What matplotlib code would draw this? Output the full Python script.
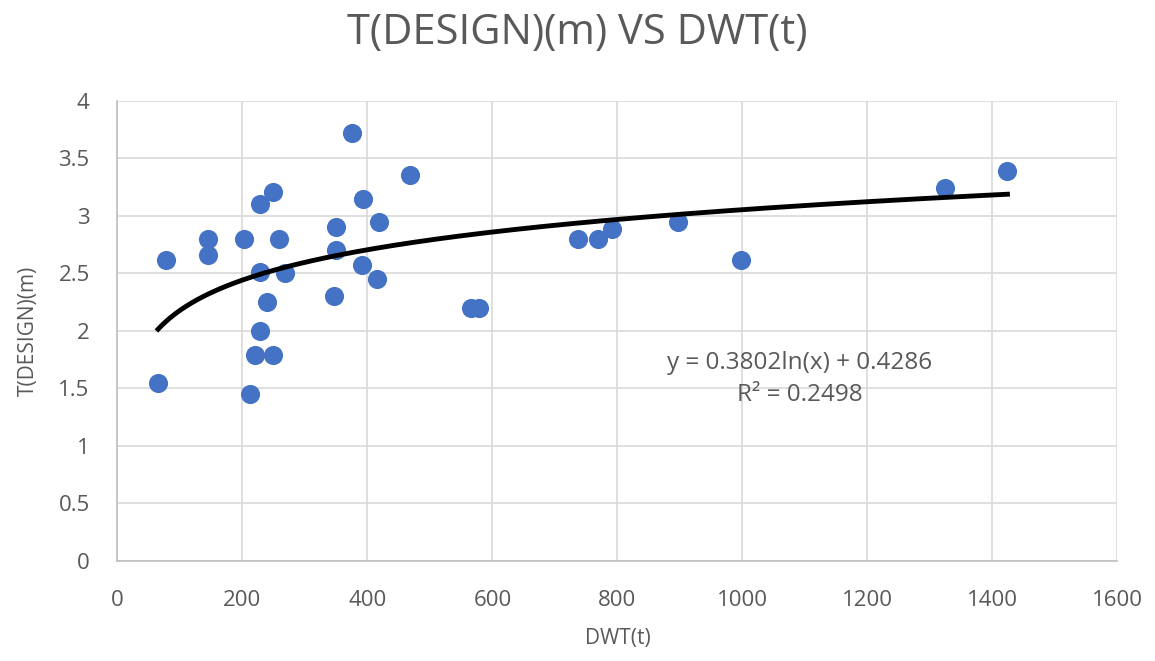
import numpy as np
import matplotlib.pyplot as plt

plt.rcParams['font.family'] = ['Open Sans', 'DejaVu Sans']

# DWT (t) and design draught (m) for each vessel
dwt = [65, 78, 145, 145, 202, 212, 220, 228, 228, 228, 240, 249, 249, 258, 268,
       347, 350, 350, 375, 391, 393, 415, 419, 468, 565, 579,
       737, 769, 792, 897, 997, 1324, 1424]
t_design = [1.55, 2.62, 2.80, 2.66, 2.80, 1.45, 1.79, 3.10, 2.51, 2.00, 2.25, 3.21, 1.79, 2.80, 2.50,
            2.30, 2.90, 2.70, 3.72, 2.57, 3.15, 2.45, 2.945, 3.36, 2.20, 2.20,
            2.80, 2.80, 2.89, 2.945, 2.62, 3.24, 3.39]

# logarithmic trendline coefficients
coef_a = 0.3802
coef_b = 0.4286
r_squared = 0.2498

x_ticks = [0, 200, 400, 600, 800, 1000, 1200, 1400, 1600]
y_ticks = [0, 0.5, 1, 1.5, 2, 2.5, 3, 3.5, 4]

text_grey = '#595959'
grid_grey = '#d9d9d9'

fig = plt.figure(figsize=(11.55, 6.61), dpi=100)
ax = fig.add_axes([0.1017, 0.1513, 0.8658, 0.6959])

ax.scatter(dwt, t_design, s=190, color='#4472C4', zorder=3, linewidths=0)

xs = np.linspace(min(dwt), max(dwt), 300)
ax.plot(xs, coef_a * np.log(xs) + coef_b, color='black', lw=3.5, zorder=4)

ax.set_xlim(0, 1600)
ax.set_ylim(0, 4)
ax.set_xticks(x_ticks)
ax.set_yticks(y_ticks)
ax.set_xticklabels([f'{v:g}' for v in x_ticks])
ax.set_yticklabels([f'{v:g}' for v in y_ticks])
ax.tick_params(length=0, labelsize=16, colors=text_grey)
ax.tick_params(axis='y', pad=20)
ax.tick_params(axis='x', pad=21)

ax.grid(True, color=grid_grey, lw=1.2)
ax.set_axisbelow(True)
for side in ['top', 'right']:
    ax.spines[side].set_visible(False)
for side in ['left', 'bottom']:
    ax.spines[side].set_color('#bfbfbf')
    ax.spines[side].set_linewidth(1.2)

ax.set_xlabel('DWT(t)', fontsize=15, color=text_grey, labelpad=12)
ax.set_ylabel('T(DESIGN)(m)', fontsize=15, color=text_grey, labelpad=14)

ax.text(1092, 1.58, f'y = {coef_a}ln(x) + {coef_b}\nR² = {r_squared}',
        ha='center', va='center', fontsize=17.5, color=text_grey, linespacing=1.45)

fig.text(0.5, 0.950, 'T(DESIGN)(m) VS DWT(t)', ha='center', va='center',
         fontsize=30, color=text_grey)

fig.savefig('out.png', dpi=100, facecolor='white')
